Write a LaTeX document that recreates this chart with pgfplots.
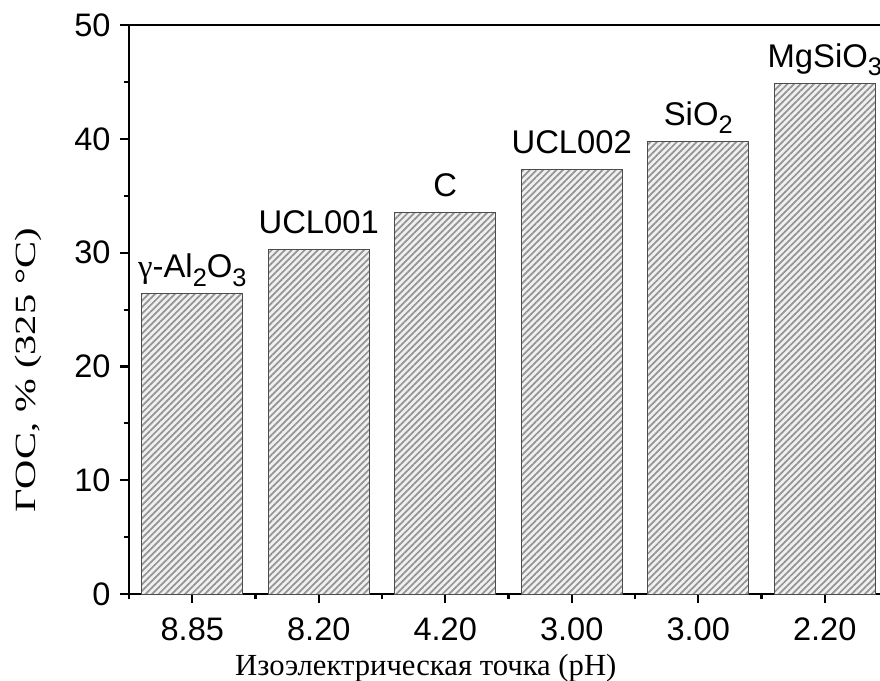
\documentclass[border=0pt]{standalone}
\usepackage{fontspec}
\setmainfont{Liberation Serif}
\setsansfont{Liberation Sans}
\usepackage{graphicx}
\usepackage{pgfplots}
\pgfplotsset{compat=1.18}
\usetikzlibrary{patterns.meta}
\newcommand{\sub}[1]{\raisebox{-0.5ex}{\fontsize{9.5}{10}\selectfont #1}}

\begin{document}
\begin{tikzpicture}
\begin{axis}[
  name=ax,
  scale only axis,
  width=284.6pt, height=213.4pt,
  xmin=-0.5, xmax=5.5, ymin=0, ymax=50,
  xtick={0,...,5},
  xticklabels={8.85,8.20,4.20,3.00,3.00,2.20},
  minor xtick={-0.5,0.5,...,5.5},
  ytick={0,10,...,50},
  minor ytick={5,15,...,45},
  tick align=outside,
  xtick pos=bottom, ytick pos=left,
  major tick length=3.4pt, minor tick length=2pt,
  tick style={black, line width=0.8pt},
  axis line style={line width=0.8pt},
  tick label style={font=\sffamily\fontsize{12.2}{14}\selectfont},
  /pgf/number format/assume math mode=true,
  xticklabel style={yshift=-2pt},
  xlabel={Изоэлектрическая точка (pH)},
  xlabel style={at={(axis description cs:0.391,-0.1424)}, anchor=base,
    font=\fontsize{11.5}{13}\selectfont},
  ylabel={\scalebox{1.38}[1]{ГОС, \% (325 °C)}},
  ylabel style={at={(axis description cs:-0.133,0.394)}, anchor=center,
    font=\fontsize{11}{13}\selectfont},
  ybar, bar width=37.9pt,
  point meta=explicit symbolic,
  nodes near coords,
  nodes near coords style={font=\sffamily\fontsize{12.3}{14}\selectfont,
    anchor=base, yshift=6pt, black},
]
\addplot[draw=black!70, line width=0.45pt, fill=black!6,
  postaction={pattern={Lines[angle=45, distance=1.75pt, line width=0.65pt]}, pattern color=black!42}]
  coordinates {
  (0,26.4) [{\rmfamily γ}-Al\sub{2}O\sub{3}]
  (1,30.3) [UCL001]
  (2,33.5) [C]
  (3,37.3) [UCL002]
  (4,39.8) [SiO\sub{2}]
  (5,44.9) [MgSiO\sub{3}]
};
\end{axis}
\pgfresetboundingbox
\path ([shift={(-48.4pt,-32.25pt)}]ax.south west) rectangle ([shift={(281.6pt,222.8pt)}]ax.south west);
\end{tikzpicture}
\end{document}
